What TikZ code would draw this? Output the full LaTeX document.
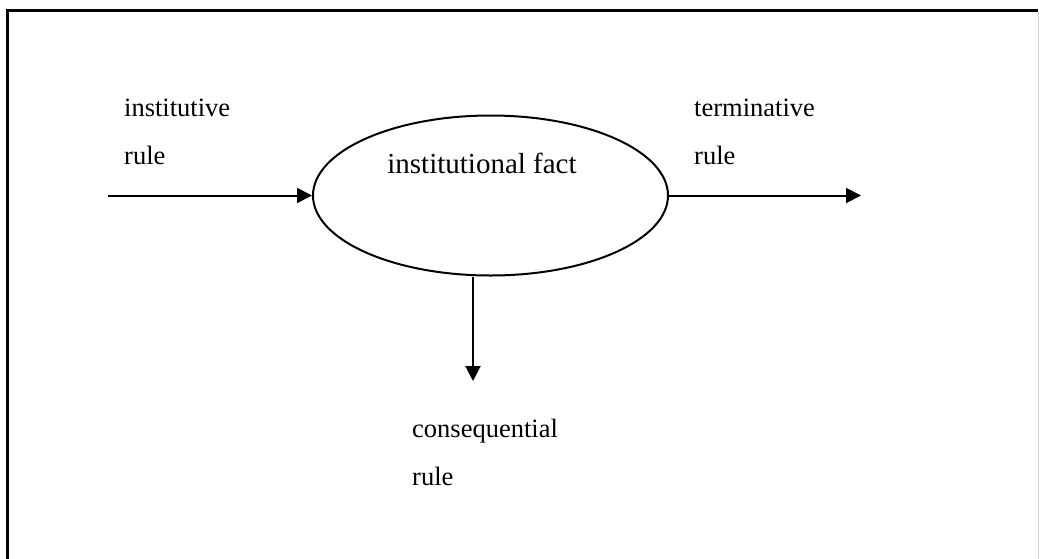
\documentclass[tikz,border=0pt]{standalone}
\usepackage{fontspec}
\setmainfont{Liberation Serif}
\usetikzlibrary{shapes.geometric,arrows.meta}
\tikzset{
  lbl/.style={anchor=base west, inner sep=0pt, font=\fontsize{26.5}{30}\selectfont},
  arr/.style={line width=2pt, -{Triangle[length=15pt, width=15pt]}},
  factshape/.style={ellipse, draw, line width=2pt, minimum width=355pt, minimum height=160pt, inner sep=0pt}
}
\begin{document}
\begin{tikzpicture}[x=1pt, y=-1pt]
\useasboundingbox (0,0) rectangle (1039,558);
\clip (0,0) rectangle (1039,558);
% frame
\draw[line width=3pt] (7.5,570) -- (7.5,10.5) -- (1038,10.5);
\draw[line width=1pt, black!15] (1038.2,12) -- (1038.2,570);
% central ellipse
\node[factshape] (fact) at (490.5,195.5) {};
\node[anchor=base, inner sep=0pt, font=\fontsize{29}{32}\selectfont] (factlabel) at (482,173) {institutional fact};
% labels
\node[lbl] (inst1) at (124,116) {institutive};
\node[lbl] (inst2) at (124,164) {rule};
\node[lbl] (term1) at (694,116) {terminative};
\node[lbl] (term2) at (694,164) {rule};
\node[lbl] (cons1) at (412,437) {consequential};
\node[lbl] (cons2) at (412,485) {rule};
% connectors
\coordinate (inStart) at (108,195.5);
\coordinate (outEnd) at (861,195.5);
\coordinate (downEnd) at (473,381);
\draw[arr] (inStart) -- (fact.west);
\draw[arr] (fact.east) -- (outEnd);
\draw[arr] (fact.south -| downEnd) -- (downEnd);
\end{tikzpicture}
\end{document}
